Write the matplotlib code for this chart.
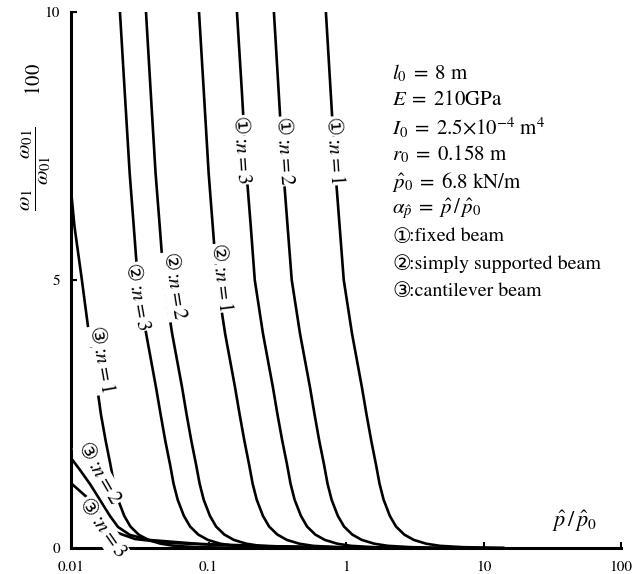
import numpy as np
import matplotlib
matplotlib.use("Agg")
import matplotlib.pyplot as plt

plt.rcParams["font.family"] = ["STIXGeneral", "Liberation Serif", "DejaVu Sans"]
plt.rcParams["mathtext.fontset"] = "stix"

# values: ratio (y) against p/p0 (x)
y_curve = [10, 8.5, 7, 6, 5, 4, 3, 2.5, 2, 1.55, 1.2, 0.9, 0.6, 0.4, 0.25,
           0.15, 0.08, 0.04, 0.015, 0.004]

x_fixed_n1 = [0.714, 0.774, 0.839, 0.899, 0.963, 1.106, 1.305, 1.408, 1.527, 1.654,
              1.753, 1.878, 2.083, 2.311, 2.653, 3.117, 3.834, 4.827, 7.14, 14.24]
x_fixed_n2 = [0.299, 0.324, 0.351, 0.376, 0.403, 0.463, 0.547, 0.590, 0.639, 0.693,
              0.734, 0.786, 0.872, 0.968, 1.111, 1.305, 1.606, 2.022, 2.99, 5.965]
x_fixed_n3 = [0.161, 0.175, 0.189, 0.203, 0.217, 0.249, 0.294, 0.317, 0.344, 0.373,
              0.395, 0.423, 0.470, 0.521, 0.598, 0.703, 0.865, 1.089, 1.61, 3.212]
x_simple_n1 = [0.0853, 0.0925, 0.1002, 0.1074, 0.1151, 0.1321, 0.1559, 0.1682, 0.1824, 0.1976,
               0.2094, 0.2243, 0.2488, 0.2760, 0.3169, 0.3723, 0.4581, 0.5767, 0.853, 1.702]
x_simple_n2 = [0.0351, 0.0380, 0.0412, 0.0442, 0.0473, 0.0544, 0.0642, 0.0692, 0.0750, 0.0813,
               0.0862, 0.0923, 0.1024, 0.1136, 0.1304, 0.1532, 0.1885, 0.2373, 0.351, 0.700]
x_simple_n3 = [0.0227, 0.0246, 0.0267, 0.0286, 0.0306, 0.0352, 0.0415, 0.0448, 0.0485, 0.0526,
               0.0557, 0.0597, 0.0662, 0.0735, 0.0843, 0.0991, 0.1219, 0.1535, 0.227, 0.453]

x_cant_n1 = [0.01, 0.0106, 0.0120, 0.0135, 0.0155, 0.01649, 0.01787, 0.01937, 0.02052,
             0.02199, 0.02439, 0.02705, 0.03106, 0.03649, 0.04489, 0.05652, 0.0836, 0.1668]
y_cant_n1 = [6.68, 6, 5, 4, 3, 2.5, 2, 1.55, 1.2, 0.9, 0.6, 0.4, 0.25, 0.15, 0.08, 0.04,
             0.015, 0.004]
x_cant_n2 = [0.01, 0.01163, 0.01374, 0.01626, 0.01922, 0.02198, 0.02686, 0.03756, 0.0867,
             0.4628, 2.0]
y_cant_n2 = [1.68, 1.455, 1.194, 0.896, 0.597, 0.392, 0.243, 0.149, 0.075, 0.019, 0.003]
x_cant_n3 = [0.01, 0.01374, 0.01767, 0.02089, 0.02919, 0.05248, 0.2004, 2.47]
y_cant_n3 = [1.21, 0.896, 0.522, 0.30, 0.168, 0.093, 0.037, 0.003]

curves = [
    (x_fixed_n1, y_curve), (x_fixed_n2, y_curve), (x_fixed_n3, y_curve),
    (x_simple_n1, y_curve), (x_simple_n2, y_curve), (x_simple_n3, y_curve),
    (x_cant_n1, y_cant_n1), (x_cant_n2, y_cant_n2), (x_cant_n3, y_cant_n3),
]

# curve labels: beam mark, mode text, x, y, rotation
curve_labels = [
    ("①", "$n = 1$", 0.818, 7.37, -86),
    ("①", "$n = 2$", 0.354, 7.37, -86),
    ("①", "$n = 3$", 0.172, 7.39, -86),
    ("②", "$n = 1$", 0.1233, 5.0, -83),
    ("②", "$n = 2$", 0.0561, 4.85, -81),
    ("②", "$n = 3$", 0.0302, 4.65, -80),
    ("③", "$n = 1$", 0.01652, 3.47, -80),
    ("③", "$n = 2$", 0.01626, 1.36, -60),
    ("③", "$n = 3$", 0.0171, 0.34, -55),
]

params = [
    r"$l_0\;=\;8\ \mathrm{m}$",
    r"$E\;=\;210\mathrm{GPa}$",
    r"$I_0\;=\;2.5{\times}10^{-4}\ \mathrm{m}^4$",
    r"$r_0\;=\;0.158\ \mathrm{m}$",
    r"$\hat{p}_0\;=\;6.8\ \mathrm{kN/m}$",
    r"$\alpha_{\hat{p}}\;=\;\hat{p}\,/\,\hat{p}_0$",
]
beam_marks = ["①", "②", "③"]
beam_names = [":fixed beam", ":simply supported beam", ":cantilever beam"]

x_ticks = [0.01, 0.1, 1, 10, 100]
x_tick_labels = ["0.01", "0.1", "1", "10", "100"]
y_ticks = [0, 5, 10]

fig = plt.figure(figsize=(6.36, 5.74), dpi=100)
ax = fig.add_axes([71 / 636, 1 - 548 / 574, 550 / 636, 536 / 574])

for xs, ys in curves:
    ax.plot(xs, ys, color="black", lw=1.9, solid_capstyle="butt")

white = dict(fc="white", ec="none", pad=0.6)
mark_font = ["DejaVu Sans", "STIXGeneral"]
for mark, text, x, y, rot in curve_labels:
    dx, dy = np.cos(np.radians(rot)), np.sin(np.radians(rot))
    ax.annotate(mark, (x, y), xytext=(-19 * dx, -19 * dy), textcoords="offset points",
                rotation=rot, rotation_mode="anchor", ha="center", va="center",
                fontsize=15, family=mark_font, bbox=white, zorder=5)
    ax.annotate(":" + text, (x, y), xytext=(6 * dx, 6 * dy), textcoords="offset points",
                rotation=rot, rotation_mode="anchor", ha="center", va="center",
                fontsize=15, bbox=white, zorder=5)

line_y = [(548 - 73 - i * 27.3) / 536 for i in range(9)]
for i, line in enumerate(params):
    ax.text(0.5836, line_y[i], line, transform=ax.transAxes,
            ha="left", va="center", fontsize=15)
for i, (mark, name) in enumerate(zip(beam_marks, beam_names)):
    ax.text(0.5836, line_y[6 + i], mark, transform=ax.transAxes, ha="left", va="center",
            fontsize=15, family=mark_font)
    ax.text(0.5836 + 17 / 550, line_y[6 + i], name, transform=ax.transAxes,
            ha="left", va="center", fontsize=14.4)

ax.set_xscale("log")
ax.set_xlim(0.01, 100)
ax.set_ylim(0, 10)
ax.set_xticks(x_ticks)
ax.set_xticklabels(x_tick_labels)
ax.set_yticks(y_ticks)
ax.minorticks_off()
ax.tick_params(direction="in", length=4, width=1.5, labelsize=11, pad=8)
ax.tick_params(axis="x", pad=9)

for side in ["top", "right"]:
    ax.spines[side].set_visible(False)
for side in ["left", "bottom"]:
    ax.spines[side].set_linewidth(2.2)

ax.text(0.916, 0.05, r"$\hat{p}\,/\,\hat{p}_0$", transform=ax.transAxes,
        ha="center", va="center", fontsize=16)
fig.text(36 / 636, 1 - 137 / 574,
         r"$\dfrac{\omega_1\qquad\omega_{01}}{\omega_{01}}\qquad 100$",
         rotation=90, ha="center", va="center", fontsize=15)

fig.savefig("out.png", dpi=100)
